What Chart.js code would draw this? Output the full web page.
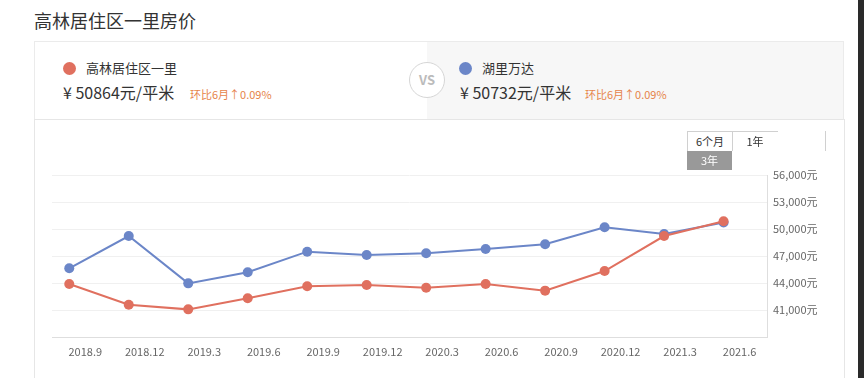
<!DOCTYPE html>
<html>
<head>
<meta charset="utf-8">
<script src="https://cdn.jsdelivr.net/npm/chart.js@4.4.1/dist/chart.umd.min.js"></script>
<style>
  html, body { margin: 0; padding: 0; background: #fff; }
  body { width: 864px; height: 378px; position: relative; overflow: hidden;
         font-family: "Noto Sans CJK SC", "Noto Sans", sans-serif; color: #333; }
  .abs { position: absolute; white-space: nowrap; }
  .title { left: 34px; top: 7px; font-size: 18px; line-height: 26px; color: #333; }
  .card { top: 41px; height: 77px; border: 1px solid #ebebeb; border-bottom-color: #e6e6e6; }
  .dot { width: 13px; height: 13px; border-radius: 50%; }
  .name { font-size: 13px; line-height: 18px; color: #333; }
  .price { font-size: 16px; line-height: 22px; color: #333; }
  .ratio { font-size: 11px; line-height: 16px; color: #e6844a; }
  .vs { left: 409px; top: 62px; width: 34px; height: 34px; border: 1px solid #d6d6d6; border-radius: 50%;
        background: #fff; color: #bbb; font-size: 13px; font-weight: bold; text-align: center; line-height: 34px; }
  .btn { font-size: 11px; line-height: 19px; text-align: center; color: #333; }
  #wrap { position: absolute; left: 34px; top: 119px; width: 810px; height: 259px; }
</style>
</head>
<body>
<div class="abs title">高林居住区一里房价</div>

<div class="abs card" style="left:34px; width:392px; background:#fff;"></div>
<div class="abs card" style="left:427px; width:416px; background:#f7f7f7; border-left:none;"></div>

<div class="abs dot" style="left:63px; top:62px; background:#e0705f;"></div>
<div class="abs name" style="left:86px; top:59px;">高林居住区一里</div>
<div class="abs price" style="left:63px; top:81px;">¥ 50864元/平米</div>
<div class="abs ratio" style="left:190px; top:86px;">环比6月↑0.09%</div>

<div class="abs dot" style="left:459px; top:62px; background:#6b86c8;"></div>
<div class="abs name" style="left:482px; top:59px;">湖里万达</div>
<div class="abs price" style="left:460px; top:81px;">¥ 50732元/平米</div>
<div class="abs ratio" style="left:585px; top:86px;">环比6月↑0.09%</div>

<div class="abs vs">VS</div>

<div class="abs" style="left:34px; top:119px; width:809px; height:259px; border-left:1px solid #e6e6e6; border-right:1px solid #e6e6e6;"></div>

<div id="wrap"><canvas id="chart"></canvas></div>

<div class="abs btn" style="left:687px; top:131px; width:44px; height:19px; border:1px solid #d0d0d0; border-bottom:none; background:#fff;">6个月</div>
<div class="abs btn" style="left:732px; top:131px; width:46px; height:19px; border-top:1px solid #d0d0d0;">1年</div>
<div class="abs" style="left:825px; top:131px; width:1px; height:20px; background:#d0d0d0;"></div>
<div class="abs btn" style="left:687px; top:151px; width:45px; height:19px; background:#999; color:#fff;">3年</div>

<div class="abs" style="left:858px; top:0; width:6px; height:378px; background:#2a2a2a;"></div>

<script>
const months = ["2018.9", "2018.12", "2019.3", "2019.6", "2019.9", "2019.12",
                "2020.3", "2020.6", "2020.9", "2020.12", "2021.3", "2021.6"];
const gaolinPrices = [43890, 41590, 41070, 42300, 43630, 43780,
                      43480, 43890, 43150, 45330, 49220, 50864];
const hulidaPrices = [45630, 49220, 43960, 45190, 47480, 47110,
                      47300, 47780, 48300, 50190, 49440, 50732];
const yTicks = [38000, 41000, 44000, 47000, 50000, 53000, 56000];

const red = "#e0705f";
const blue = "#6b86c8";

const toPoints = arr => arr.map((v, i) => ({ x: i, y: v }));

new Chart(document.getElementById("chart"), {
  type: "line",
  data: {
    datasets: [{
      label: "高林居住区一里",
      data: toPoints(gaolinPrices),
      borderColor: red,
      backgroundColor: red,
      pointBackgroundColor: red,
      pointBorderColor: red,
      borderWidth: 2,
      pointRadius: 5,
      pointBorderWidth: 0,
      tension: 0
    }, {
      label: "湖里万达",
      data: toPoints(hulidaPrices),
      borderColor: blue,
      backgroundColor: blue,
      pointBackgroundColor: blue,
      pointBorderColor: blue,
      borderWidth: 2,
      pointRadius: 5,
      pointBorderWidth: 0,
      tension: 0
    }]
  },
  options: {
    responsive: true,
    maintainAspectRatio: false,
    animation: false,
    layout: { padding: { left: 18, top: 56, right: 0, bottom: 0 } },
    plugins: { legend: { display: false }, tooltip: { enabled: false } },
    scales: {
      x: {
        type: "linear",
        min: -0.29,
        max: 11.73,
        afterBuildTicks: scale => { scale.ticks = months.map((_, i) => ({ value: i })); },
        afterFit: scale => { scale.height = 41; },
        ticks: {
          callback: v => months[v],
          color: "#666",
          font: { size: 11, family: "Noto Sans CJK SC" },
          labelOffset: 16,
          padding: 8,
          maxRotation: 0,
          autoSkip: false
        },
        grid: { display: false, drawTicks: false },
        border: { display: true, color: "#dedede" }
      },
      y: {
        position: "right",
        min: 38000,
        max: 56000,
        afterBuildTicks: scale => { scale.ticks = yTicks.map(v => ({ value: v })); },
        afterFit: scale => { scale.width = 77; },
        ticks: {
          callback: v => v === yTicks[0] ? "" : v.toLocaleString("en-US") + "元",
          color: "#666",
          font: { size: 11, family: "Noto Sans CJK SC" },
          padding: 6
        },
        grid: { color: "#f0f0f0", drawTicks: false },
        border: { display: true, color: "#dedede" }
      }
    }
  }
});
</script>
</body>
</html>
